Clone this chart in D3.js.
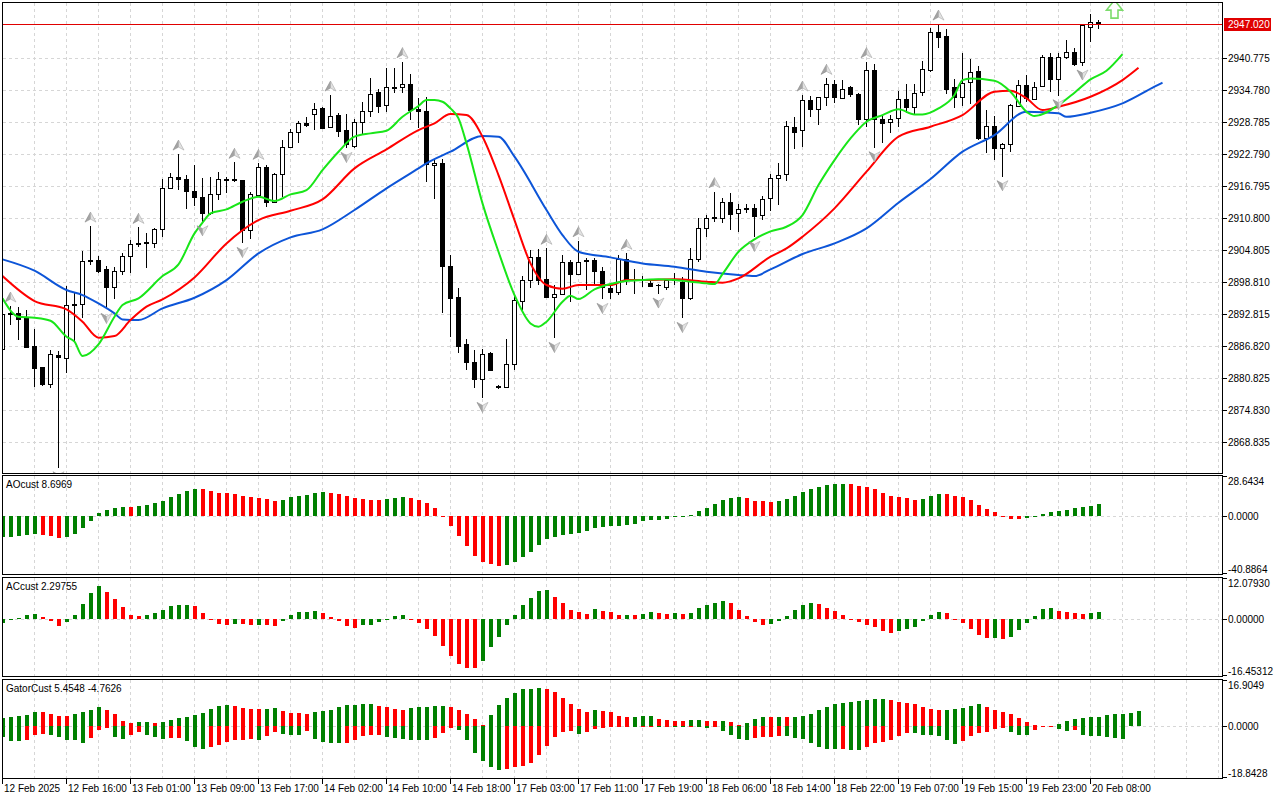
<!DOCTYPE html>
<meta charset="utf-8">
<head>
    <title>XAUUSD H1</title>
    <script src="https://cdn.jsdelivr.net/npm/d3@7"></script>
</head>

<style>
    body { margin: 0; background: #fff; }
    svg { display: block; font-family: "Liberation Sans", Arial, sans-serif; font-size: 10px; }
    .grid { stroke: #d6d6d6; stroke-dasharray: 3,3; shape-rendering: crispEdges; }
    .frame { fill: none; stroke: #000; shape-rendering: crispEdges; }
    .tick { stroke: #000; shape-rendering: crispEdges; }
    .hist rect { shape-rendering: crispEdges; }
</style>

<svg id="chart" width="1280" height="800"></svg>

<script>
    // bottom axis labels, one every 8 bars
    var timeLabels = ["12 Feb 2025", "12 Feb 16:00", "13 Feb 01:00", "13 Feb 09:00", "13 Feb 17:00",
        "14 Feb 02:00", "14 Feb 10:00", "14 Feb 18:00", "17 Feb 03:00", "17 Feb 11:00", "17 Feb 19:00",
        "18 Feb 06:00", "18 Feb 14:00", "18 Feb 22:00", "19 Feb 07:00", "19 Feb 15:00", "19 Feb 23:00",
        "20 Feb 08:00"];
    var priceTicks = [2940.775, 2934.780, 2928.785, 2922.790, 2916.795, 2910.800, 2904.805,
        2898.810, 2892.815, 2886.820, 2880.825, 2874.830, 2868.835];
    var currentPrice = 2947.02;

    // candles (H1)
    var openP = [2886.13, 2892.69, 2892.88, 2891.94, 2886.75, 2882.76, 2879.58, 2885.00, 2884.57, 2894.69,
        2894.57, 2902.93, 2902.87, 2901.12, 2897.74, 2900.87, 2903.68, 2905.81, 2906.24, 2905.99,
        2908.62, 2916.30, 2918.36, 2917.98, 2915.86, 2914.61, 2911.61, 2915.17, 2917.98, 2917.98,
        2917.80, 2908.49, 2915.05, 2920.23, 2913.80, 2918.98, 2923.98, 2926.79, 2928.48, 2930.16,
        2931.29, 2927.73, 2929.98, 2927.23, 2924.29, 2928.66, 2930.85, 2934.28, 2931.85, 2935.28,
        2935.21, 2935.84, 2931.10, 2930.79, 2920.61, 2920.98, 2901.81, 2896.00, 2887.13, 2883.70,
        2880.51, 2885.51, 2879.20, 2879.14, 2883.32, 2895.25, 2899.12, 2903.37, 2899.24, 2896.00,
        2896.44, 2902.43, 2900.18, 2902.87, 2902.81, 2900.87, 2897.68, 2896.81, 2903.00, 2899.30,
        2899.30, 2898.62, 2898.24, 2897.87, 2899.18, 2898.81, 2895.69, 2903.00, 2908.81, 2910.86,
        2910.67, 2913.67, 2911.61, 2912.55, 2912.55, 2911.30, 2914.42, 2918.17, 2918.92, 2927.85,
        2927.23, 2932.85, 2931.10, 2933.35, 2935.84, 2933.29, 2935.28, 2933.97, 2929.23, 2938.46,
        2929.29, 2928.66, 2929.41, 2932.97, 2931.60, 2934.28, 2938.46, 2945.52, 2944.84, 2935.21,
        2933.47, 2936.28, 2938.28, 2925.66, 2928.04, 2923.79, 2924.54, 2931.72, 2935.65, 2933.03,
        2935.46, 2940.84, 2936.78, 2940.84, 2941.90, 2940.03, 2946.46, 2947.52];
    var highP = [2892.88, 2894.25, 2894.13, 2893.50, 2889.94, 2882.89, 2886.00, 2885.88, 2897.99, 2896.62,
        2904.62, 2909.23, 2903.68, 2901.75, 2901.62, 2904.12, 2906.62, 2908.98, 2907.87, 2908.92,
        2918.05, 2919.11, 2922.72, 2918.80, 2920.67, 2918.30, 2918.49, 2919.42, 2918.49, 2921.17,
        2917.86, 2915.67, 2920.98, 2920.67, 2919.23, 2925.35, 2927.35, 2928.98, 2929.60, 2932.23,
        2931.60, 2933.78, 2930.48, 2930.23, 2929.29, 2932.54, 2936.90, 2934.90, 2938.78, 2938.78,
        2940.03, 2937.71, 2933.16, 2933.35, 2921.72, 2921.72, 2903.81, 2897.56, 2888.00, 2886.00,
        2886.13, 2885.69, 2879.51, 2888.00, 2896.44, 2899.87, 2904.75, 2904.87, 2905.06, 2898.18,
        2903.81, 2902.87, 2906.49, 2903.18, 2903.31, 2901.62, 2898.18, 2903.81, 2904.12, 2901.12,
        2899.87, 2899.24, 2898.37, 2899.24, 2900.37, 2899.74, 2905.06, 2910.67, 2911.24, 2915.67,
        2914.42, 2915.36, 2913.30, 2913.36, 2913.36, 2914.86, 2918.98, 2921.11, 2928.98, 2929.73,
        2933.78, 2933.60, 2933.47, 2936.90, 2936.59, 2936.59, 2935.46, 2934.09, 2940.03, 2939.59,
        2930.04, 2930.04, 2934.59, 2935.84, 2935.84, 2940.15, 2946.40, 2947.08, 2946.08, 2936.71,
        2941.71, 2940.53, 2939.22, 2930.98, 2929.85, 2924.85, 2932.10, 2936.59, 2937.53, 2936.28,
        2941.28, 2941.59, 2941.71, 2944.09, 2942.52, 2946.90, 2948.96, 2947.83];
    var lowP = [2886.00, 2890.69, 2887.88, 2886.32, 2879.14, 2879.33, 2878.83, 2863.96, 2881.76, 2887.57,
        2892.07, 2901.93, 2900.37, 2893.63, 2895.50, 2899.99, 2900.37, 2905.37, 2901.31, 2905.06,
        2907.12, 2916.11, 2915.99, 2912.36, 2912.99, 2910.05, 2911.30, 2914.11, 2915.36, 2917.55,
        2905.99, 2906.74, 2914.74, 2912.86, 2913.61, 2914.74, 2923.79, 2924.72, 2927.73, 2927.23,
        2927.35, 2927.54, 2925.85, 2923.79, 2923.79, 2926.48, 2929.73, 2930.48, 2930.66, 2934.09,
        2934.21, 2929.10, 2927.66, 2917.55, 2914.30, 2892.88, 2888.50, 2885.38, 2882.26, 2878.83,
        2876.95, 2882.14, 2878.77, 2879.14, 2882.26, 2893.50, 2897.56, 2898.18, 2895.81, 2888.19,
        2896.31, 2895.07, 2900.18, 2897.25, 2898.18, 2895.50, 2895.50, 2896.31, 2898.18, 2896.50,
        2897.74, 2897.74, 2896.50, 2897.25, 2898.18, 2891.94, 2895.38, 2902.56, 2907.12, 2910.05,
        2909.86, 2908.49, 2908.18, 2911.61, 2907.12, 2910.36, 2912.11, 2913.17, 2917.73, 2923.61,
        2924.11, 2929.60, 2928.16, 2931.72, 2932.35, 2933.16, 2933.47, 2928.16, 2927.85, 2923.92,
        2924.73, 2926.60, 2927.73, 2930.35, 2930.04, 2933.66, 2938.15, 2942.52, 2933.97, 2931.29,
        2931.72, 2932.10, 2925.35, 2922.98, 2921.61, 2918.49, 2923.17, 2931.60, 2932.54, 2932.85,
        2935.34, 2934.41, 2933.66, 2940.46, 2939.22, 2939.22, 2943.77, 2946.15];
    var closeP = [2892.69, 2892.88, 2891.75, 2886.50, 2882.70, 2879.58, 2885.19, 2884.75, 2894.44, 2894.44,
        2902.62, 2902.68, 2900.87, 2897.74, 2900.87, 2903.56, 2905.81, 2906.12, 2905.99, 2908.62,
        2916.30, 2918.36, 2917.98, 2915.86, 2914.61, 2911.61, 2915.17, 2917.98, 2917.86, 2917.80,
        2908.49, 2915.23, 2920.23, 2913.80, 2918.98, 2923.98, 2926.79, 2928.48, 2928.10, 2931.10,
        2927.66, 2929.91, 2927.10, 2924.54, 2928.66, 2930.85, 2934.03, 2931.79, 2935.21, 2935.15,
        2935.84, 2930.98, 2930.85, 2920.86, 2920.98, 2901.81, 2895.81, 2886.82, 2883.82, 2880.51,
        2885.26, 2882.26, 2879.08, 2883.32, 2895.38, 2899.12, 2903.37, 2899.12, 2896.00, 2896.44,
        2902.43, 2900.18, 2902.56, 2902.74, 2900.87, 2897.74, 2896.81, 2903.00, 2899.24, 2899.18,
        2899.18, 2898.06, 2898.12, 2899.12, 2899.06, 2895.69, 2903.00, 2908.81, 2910.67, 2910.74,
        2913.67, 2911.48, 2912.36, 2912.42, 2911.17, 2914.24, 2918.17, 2918.80, 2927.98, 2926.91,
        2932.85, 2931.10, 2933.35, 2935.84, 2933.35, 2934.84, 2933.91, 2929.23, 2938.46, 2929.23,
        2928.60, 2929.29, 2932.97, 2931.60, 2934.09, 2938.59, 2945.52, 2944.71, 2934.91, 2933.47,
        2936.09, 2938.03, 2925.66, 2928.04, 2923.79, 2924.54, 2931.85, 2935.65, 2933.16, 2935.21,
        2940.84, 2936.78, 2940.84, 2941.90, 2939.59, 2946.90, 2947.52, 2947.02];

    // alligator lines read as [bar, price]
    var jawLine = [[0, 2902.99], [4, 2900.87], [8, 2897.25], [10, 2896.31], [12, 2894.75], [14, 2892.88],
        [15, 2891.75], [17, 2891.63], [20, 2893.81], [24, 2895.81], [28, 2899.12], [32, 2904.12],
        [36, 2907.12], [40, 2908.61], [44, 2912.24], [48, 2916.30], [52, 2920.04], [53, 2920.98],
        [56, 2923.17], [60, 2926.10], [62, 2925.98], [64, 2922.23], [68, 2912.24], [70, 2907.55],
        [72, 2904.43], [76, 2903.37], [80, 2902.24], [84, 2901.62], [88, 2900.68], [92, 2900.06],
        [94, 2899.87], [96, 2901.12], [100, 2904.00], [104, 2905.99], [108, 2908.80], [112, 2913.61],
        [116, 2918.04], [120, 2923.17], [124, 2926.29], [128, 2930.66], [132, 2930.35], [133, 2929.72],
        [136, 2930.47], [140, 2932.22], [144, 2935.34], [145, 2936.09]];
    var teethLine = [[0, 2899.87], [4, 2895.19], [8, 2893.63], [10, 2891.32], [12, 2888.32], [14, 2888.63],
        [16, 2891.63], [18, 2894.13], [20, 2895.50], [24, 2899.62], [28, 2905.99], [32, 2910.36],
        [36, 2912.11], [40, 2914.23], [44, 2920.04], [48, 2923.60], [52, 2927.22], [54, 2928.47],
        [56, 2930.22], [58, 2930.03], [60, 2925.98], [62, 2918.79], [64, 2910.36], [66, 2902.24],
        [68, 2898.19], [70, 2897.50], [72, 2898.19], [76, 2898.19], [78, 2899.12], [80, 2899.12],
        [84, 2899.25], [88, 2898.81], [90, 2898.62], [92, 2899.43], [96, 2903.49], [98, 2905.05],
        [100, 2907.24], [104, 2912.55], [108, 2919.42], [112, 2925.98], [116, 2927.85], [120, 2930.03],
        [124, 2934.41], [126, 2934.59], [128, 2933.16], [130, 2930.97], [132, 2931.60], [136, 2933.47],
        [140, 2936.59], [142, 2938.90]];
    var lipsLine = [[0, 2895.69], [2, 2892.25], [4, 2892.07], [6, 2891.50], [8, 2888.51], [9, 2887.57],
        [10, 2884.88], [12, 2887.07], [14, 2892.25], [15, 2894.44], [17, 2895.69], [20, 2899.87],
        [22, 2902.06], [24, 2907.86], [25, 2909.86], [26, 2911.61], [28, 2912.36], [30, 2913.80],
        [32, 2914.73], [34, 2913.92], [36, 2915.17], [38, 2915.98], [40, 2919.73], [42, 2923.17],
        [44, 2925.98], [46, 2926.60], [48, 2927.10], [50, 2929.72], [52, 2931.72], [53, 2932.84],
        [54, 2932.84], [55, 2932.53], [56, 2931.28], [57, 2929.41], [58, 2924.73], [60, 2913.49],
        [62, 2904.43], [64, 2896.31], [66, 2891.00], [67, 2890.38], [68, 2891.32], [70, 2895.06],
        [71, 2896.19], [72, 2895.56], [74, 2897.37], [76, 2898.37], [78, 2898.93], [80, 2899.12],
        [82, 2899.25], [84, 2899.12], [86, 2898.81], [88, 2898.50], [89, 2898.37], [90, 2900.25],
        [92, 2904.43], [94, 2906.74], [96, 2908.24], [98, 2909.11], [100, 2911.30], [102, 2916.92],
        [104, 2921.60], [106, 2925.66], [108, 2928.79], [110, 2930.03], [112, 2931.10], [114, 2930.16],
        [115, 2930.16], [117, 2931.28], [119, 2933.78], [120, 2936.59], [121, 2936.90], [124, 2936.47],
        [126, 2934.41], [128, 2930.66], [129, 2929.85], [132, 2931.91], [134, 2934.22], [136, 2936.72],
        [138, 2938.34], [140, 2941.46]];

    // fractal bars
    var fractalUp = [1, 11, 17, 22, 29, 32, 41, 50, 68, 72, 78, 89, 100, 103, 108, 117];
    var fractalDown = [7, 13, 25, 30, 43, 60, 69, 75, 82, 85, 94, 109, 125, 132, 135];
    var signalBar = 139, signalPrice = 2948.2;

    // sub-window series
    var aoValues = [-14.42, -14.30, -13.71, -13.00, -12.53, -13.24, -13.71, -15.13, -14.42, -12.53,
        -8.51, -3.07, 2.36, 4.49, 6.15, 6.62, 6.38, 7.57, 8.04, 9.46,
        11.11, 13.71, 15.84, 18.20, 19.39, 19.15, 17.97, 16.55, 16.45, 15.60,
        14.42, 13.48, 12.77, 12.29, 11.11, 11.82, 13.71, 14.42, 14.89, 16.55,
        17.26, 16.55, 15.60, 14.42, 13.00, 12.06, 11.82, 11.75, 12.29, 13.24,
        13.71, 13.00, 11.82, 9.46, 5.91, -0.24, -6.86, -13.71, -20.80, -27.90,
        -32.39, -33.81, -34.99, -34.28, -32.39, -28.61, -25.06, -20.09, -15.84, -14.42,
        -13.00, -12.53, -11.82, -10.17, -8.04, -7.33, -7.09, -6.62, -5.91, -5.20,
        -3.55, -2.84, -2.36, -1.65, -0.47, -0.24, 0.95, 3.55, 6.15, 8.75,
        11.82, 13.00, 13.71, 13.00, 11.11, 10.64, 10.17, 11.11, 12.53, 14.66,
        17.49, 19.39, 21.00, 22.00, 22.70, 23.00, 22.90, 21.28, 20.57, 19.39,
        16.55, 14.42, 13.71, 13.00, 11.82, 12.53, 14.42, 15.84, 15.75, 14.42,
        13.71, 11.82, 8.04, 5.44, 3.07, -0.10, -2.13, -2.20, -0.95, -0.05,
        1.65, 3.07, 4.02, 4.73, 6.15, 6.62, 7.09, 8.6969];
    var acValues = [-1.07, -0.19, 0.39, 1.26, 1.55, 0.58, -0.39, -1.84, -0.68, 1.26,
        4.47, 7.67, 9.71, 8.06, 5.92, 3.69, 1.26, 0.97, 1.26, 1.84,
        2.82, 3.98, 4.17, 4.20, 3.98, 1.94, -0.05, -1.26, -1.55, -1.26,
        -1.36, -1.55, -1.50, -1.55, -1.84, -0.39, 1.17, 2.04, 2.23, 2.52,
        1.94, 0.58, -0.39, -1.84, -2.43, -1.75, -1.55, -0.78, 0.05, 0.97,
        1.26, 0.05, -0.97, -2.82, -4.85, -7.77, -10.68, -12.91, -14.08, -14.10,
        -12.14, -8.06, -5.15, -1.55, 1.26, 4.17, 6.21, 8.25, 8.54, 6.50,
        4.76, 2.72, 2.14, 1.55, 3.01, 2.43, 2.14, 1.26, 1.30, 1.26,
        1.55, 2.14, 1.84, 1.55, 1.84, 1.55, 1.84, 3.30, 4.17, 4.76,
        5.34, 4.76, 2.72, 0.97, -0.68, -1.55, -1.26, -0.39, 0.97, 2.72,
        4.17, 4.76, 4.47, 3.30, 2.43, 1.26, -0.10, -0.68, -1.55, -2.14,
        -3.30, -3.88, -3.30, -2.72, -2.14, -0.39, 1.26, 2.14, 1.84, -0.10,
        -0.97, -2.72, -4.56, -5.44, -5.40, -5.73, -5.15, -3.01, -0.97, 0.97,
        3.01, 3.30, 2.43, 2.14, 1.84, 1.65, 1.75, 2.29755];
    var gatorUpper = [3.04, 3.41, 3.77, 4.26, 5.23, 5.11, 4.50, 3.77, 3.65, 4.50,
        5.23, 5.96, 7.06, 5.96, 4.50, 1.95, 1.09, 1.58, 1.70, 1.22,
        1.58, 2.31, 3.04, 3.41, 4.14, 4.87, 6.33, 7.42, 7.79, 7.42,
        6.69, 6.33, 6.20, 6.33, 6.69, 5.60, 4.87, 4.74, 4.62, 5.23,
        5.60, 5.96, 7.06, 7.79, 7.91, 8.15, 8.27, 7.42, 7.06, 6.33,
        5.96, 6.69, 7.06, 7.18, 7.42, 7.54, 7.06, 5.96, 4.50, 2.68,
        0.49, 4.14, 7.79, 10.34, 12.17, 13.63, 13.75, 13.99, 13.63, 12.53,
        10.34, 8.15, 6.33, 5.23, 5.96, 5.60, 5.23, 3.77, 3.41, 3.53,
        3.65, 3.77, 2.68, 2.31, 1.95, 1.82, 2.19, 2.31, 1.95, 1.82,
        2.07, 1.58, 0.49, 1.22, 2.68, 3.41, 3.28, 3.41, 3.28, 3.41,
        3.77, 4.50, 5.96, 7.06, 8.15, 8.52, 9.00, 9.25, 9.61, 9.85,
        9.98, 9.61, 8.88, 8.52, 8.15, 7.06, 6.33, 5.96, 6.08, 6.33,
        6.69, 7.42, 8.15, 7.06, 5.96, 5.23, 4.50, 3.04, 1.58, 0.61,
        0.12, 0.24, 0.85, 1.95, 2.68, 3.04, 3.28, 3.41, 4.14, 4.38,
        4.62, 4.87, 5.4548];
    var gatorLower = [4.01, 5.23, 5.47, 4.87, 3.04, 2.68, 3.04, 3.77, 4.87, 5.11,
        6.20, 4.14, 1.22, 0.73, 3.77, 4.62, 3.04, 2.19, 3.04, 3.77,
        4.50, 4.38, 4.26, 5.23, 7.42, 8.15, 7.42, 6.69, 5.60, 4.87,
        4.80, 4.75, 4.85, 3.41, 1.95, 2.68, 3.04, 3.10, 1.58, 4.50,
        5.60, 5.96, 6.00, 5.90, 4.87, 3.41, 3.28, 3.04, 3.77, 4.14,
        4.50, 4.87, 4.90, 4.95, 4.14, 2.31, 0.61, 1.22, 4.87, 9.61,
        12.53, 14.72, 15.82, 15.69, 14.72, 14.36, 13.26, 10.34, 7.06, 3.77,
        1.95, 1.58, 2.68, 1.95, 0.85, 0.55, 0.30, 0.25, 0.20, 0.35,
        0.15, 0.10, 0.25, 0.15, 0.30, 0.40, 0.20, 0.35, 0.50, 0.40,
        1.58, 3.04, 4.62, 4.87, 4.26, 4.01, 3.77, 3.41, 3.53, 4.38,
        4.62, 5.96, 7.42, 8.15, 8.40, 8.30, 8.55, 8.60, 7.42, 5.96,
        5.60, 4.87, 3.41, 2.31, 2.55, 3.04, 3.16, 3.41, 4.87, 6.33,
        5.23, 3.41, 2.31, 1.95, 0.85, 0.73, 1.95, 3.04, 3.16, 1.22,
        0.36, 0.24, 0.85, 1.58, 1.34, 3.04, 3.41, 3.53, 3.77, 4.14,
        4.7626];

    // layout
    var plotL = 2.5, plotR = 1222.5;
    var panels = {
        main: {top: 2.5, bottom: 473.5},
        ao: {top: 475.5, bottom: 574.5},
        ac: {top: 577.5, bottom: 676.5},
        gator: {top: 679.5, bottom: 778.5}
    };
    var GREEN = '#008000', RED = '#ff0000';

    var x = d3.scaleLinear().domain([0, 152.5]).range([plotL, plotR]);
    var yMain = d3.scaleLinear().domain([2862.88, 2951.12]).range([473.5, 2.5]);
    var yAO = d3.scaleLinear().domain([-40.8864, 28.6434]).range([574, 476]);
    var yAC = d3.scaleLinear().domain([-16.45312, 12.0793]).range([676, 578]);
    var yGator = d3.scaleLinear().domain([-18.8428, 16.9049]).range([778, 680]);

    var svg = d3.select('#chart');
    var defs = svg.append('defs');

    Object.keys(panels).forEach(function (k) {
        var p = panels[k];
        defs.append('clipPath').attr('id', 'clip-' + k).append('rect')
            .attr('x', plotL).attr('y', p.top)
            .attr('width', plotR - plotL).attr('height', p.bottom - p.top);
    });

    // vertical grid every 4 bars, in every window
    var gridBars = d3.range(4, 153, 4);
    Object.keys(panels).forEach(function (k) {
        var p = panels[k];
        svg.append('g').selectAll('line').data(gridBars).enter().append('line')
            .attr('class', 'grid')
            .attr('x1', function (d) { return x(d); }).attr('x2', function (d) { return x(d); })
            .attr('y1', p.top).attr('y2', p.bottom);
    });

    // horizontal grid of the price window
    svg.append('g').selectAll('line').data(priceTicks).enter().append('line')
        .attr('class', 'grid')
        .attr('x1', plotL).attr('x2', plotR)
        .attr('y1', function (d) { return Math.round(yMain(d)) + 0.5; })
        .attr('y2', function (d) { return Math.round(yMain(d)) + 0.5; });

    // zero lines of the sub-windows
    [[yAO, 'ao'], [yAC, 'ac'], [yGator, 'gator']].forEach(function (s) {
        var yy = Math.round(s[0](0)) + 0.5;
        svg.append('line').attr('class', 'grid')
            .attr('x1', plotL).attr('x2', plotR).attr('y1', yy).attr('y2', yy);
    });

    // price window
    var gMain = svg.append('g').attr('clip-path', 'url(#clip-main)');

    var bars = d3.range(openP.length);
    var candle = gMain.append('g').selectAll('g').data(bars).enter().append('g');
    candle.append('line')
        .attr('x1', function (i) { return x(i); }).attr('x2', function (i) { return x(i); })
        .attr('y1', function (i) { return yMain(highP[i]); })
        .attr('y2', function (i) { return yMain(lowP[i]); })
        .attr('stroke', '#000').attr('shape-rendering', 'crispEdges');
    candle.each(function (i) {
        var g = d3.select(this);
        var top = Math.round(yMain(Math.max(openP[i], closeP[i]))) + 0.5;
        var bot = Math.round(yMain(Math.min(openP[i], closeP[i]))) + 0.5;
        if (bot - top < 1) {
            g.append('line').attr('x1', x(i) - 2.5).attr('x2', x(i) + 2.5)
                .attr('y1', top).attr('y2', top)
                .attr('stroke', '#000').attr('shape-rendering', 'crispEdges');
        } else {
            g.append('rect').attr('x', x(i) - 2).attr('y', top)
                .attr('width', 4).attr('height', bot - top)
                .attr('fill', closeP[i] >= openP[i] ? '#fff' : '#000')
                .attr('stroke', '#000').attr('shape-rendering', 'crispEdges');
        }
    });

    // alligator
    var line = d3.line()
        .x(function (d) { return x(d[0]); })
        .y(function (d) { return yMain(d[1]); })
        .curve(d3.curveMonotoneX);
    [[jawLine, '#0d55d8'], [teethLine, '#ff0000'], [lipsLine, '#19e619']].forEach(function (s) {
        gMain.append('path').datum(s[0]).attr('d', line)
            .attr('fill', 'none').attr('stroke', s[1]).attr('stroke-width', 2)
            .attr('stroke-linejoin', 'round');
    });

    // fractal arrows: darker left flank, light right flank
    function arrow(g, cx, cy, dir) {
        var s = dir;  // -1 up, 1 down
        g.append('path')
            .attr('d', 'M' + cx + ',' + (cy + 5 * s) + 'L' + (cx - 5.5) + ',' + (cy - 5 * s) +
                'L' + cx + ',' + (cy - 2 * s) + 'Z')
            .attr('fill', '#a4a4a4').attr('stroke', '#8a8a8a').attr('stroke-width', 0.6);
        g.append('path')
            .attr('d', 'M' + cx + ',' + (cy + 5 * s) + 'L' + (cx + 5.5) + ',' + (cy - 5 * s) +
                'L' + cx + ',' + (cy - 2 * s) + 'Z')
            .attr('fill', '#e2e2e2').attr('stroke', '#a8a8a8').attr('stroke-width', 0.6);
    }
    var gFr = gMain.append('g');
    fractalUp.forEach(function (i) { arrow(gFr, x(i), yMain(highP[i]) - 9, -1); });
    fractalDown.forEach(function (i) { arrow(gFr, x(i), yMain(lowP[i]) + 9, 1); });

    // current bid line
    var yBid = Math.round(yMain(currentPrice)) + 0.5;
    gMain.append('line').attr('x1', plotL).attr('x2', plotR)
        .attr('y1', yBid).attr('y2', yBid)
        .attr('stroke', '#e00000').attr('shape-rendering', 'crispEdges');

    // signal arrow
    var sx = x(signalBar), sy = yMain(signalPrice);
    gMain.append('path')
        .attr('d', 'M' + (sx - 3.5) + ',' + sy + 'L' + (sx + 3.5) + ',' + sy + 'L' + (sx + 3.5) + ',' + (sy - 8) +
            'L' + (sx + 8) + ',' + (sy - 8) + 'L' + sx + ',' + (sy - 18) + 'L' + (sx - 8) + ',' + (sy - 8) +
            'L' + (sx - 3.5) + ',' + (sy - 8) + 'Z')
        .attr('fill', '#fff').attr('stroke', '#7cdc6c').attr('stroke-width', 1.6);

    // histograms
    function colorsUp(arr) {
        return arr.map(function (v, i) { return i === 0 || v > arr[i - 1]; });
    }
    function hist(key, values, yS, sign) {
        var up = colorsUp(values);
        svg.append('g').attr('class', 'hist').attr('clip-path', 'url(#clip-' + key + ')')
            .selectAll('rect').data(values).enter().append('rect')
            .attr('x', function (d, i) { return x(i) - 2; })
            .attr('width', 4)
            .attr('y', function (d) { return Math.min(yS(0), yS(sign * d)); })
            .attr('height', function (d) { return Math.max(0.8, Math.abs(yS(sign * d) - yS(0))); })
            .attr('fill', function (d, i) { return up[i] ? GREEN : RED; });
    }
    hist('ao', aoValues, yAO, 1);
    hist('ac', acValues, yAC, 1);
    hist('gator', gatorUpper, yGator, 1);
    hist('gator', gatorLower, yGator, -1);

    // frames
    Object.keys(panels).forEach(function (k) {
        var p = panels[k];
        svg.append('rect').attr('class', 'frame')
            .attr('x', plotL).attr('y', p.top)
            .attr('width', plotR - plotL).attr('height', p.bottom - p.top);
    });

    // price axis
    var gAxis = svg.append('g');
    priceTicks.forEach(function (t) {
        var yy = Math.round(yMain(t)) + 0.5;
        gAxis.append('line').attr('class', 'tick')
            .attr('x1', plotR).attr('x2', plotR + 4).attr('y1', yy).attr('y2', yy);
        gAxis.append('text').attr('x', 1228).attr('y', yy + 3.5)
            .text(t.toFixed(3));
    });
    gAxis.append('rect').attr('x', 1224).attr('y', yBid - 6.5)
        .attr('width', 47).attr('height', 13).attr('fill', '#e00000');
    gAxis.append('text').attr('x', 1228).attr('y', yBid + 3.5).attr('fill', '#fff')
        .text(currentPrice.toFixed(3));

    // sub-window scales
    [['ao', yAO, 4], ['ac', yAC, 5], ['gator', yGator, 4]].forEach(function (s) {
        var p = panels[s[0]], yS = s[1], dom = yS.domain();
        var marks = [[dom[1], p.top + 9, p.top + 1], [0, Math.round(yS(0)) + 4, Math.round(yS(0)) + 0.5],
            [dom[0], p.bottom - 1.5, p.bottom - 1]];
        marks.forEach(function (m) {
            gAxis.append('line').attr('class', 'tick')
                .attr('x1', plotR).attr('x2', plotR + 4).attr('y1', m[2]).attr('y2', m[2]);
            gAxis.append('text').attr('x', 1228).attr('y', m[1]).text(m[0].toFixed(s[2]));
        });
    });

    // indicator captions
    svg.append('text').attr('x', 6).attr('y', 488).text('AOcust 8.6969');
    svg.append('text').attr('x', 6).attr('y', 590).text('ACcust 2.29755');
    svg.append('text').attr('x', 6).attr('y', 692).text('GatorCust 5.4548 -4.7626');

    // time axis
    var gTime = svg.append('g');
    timeLabels.forEach(function (lbl, k) {
        var xx = x(k * 8);
        gTime.append('line').attr('class', 'tick')
            .attr('x1', xx).attr('x2', xx).attr('y1', panels.gator.bottom).attr('y2', panels.gator.bottom + 5);
        gTime.append('text').attr('x', xx + 1.5).attr('y', 792).text(lbl);
    });
</script>
